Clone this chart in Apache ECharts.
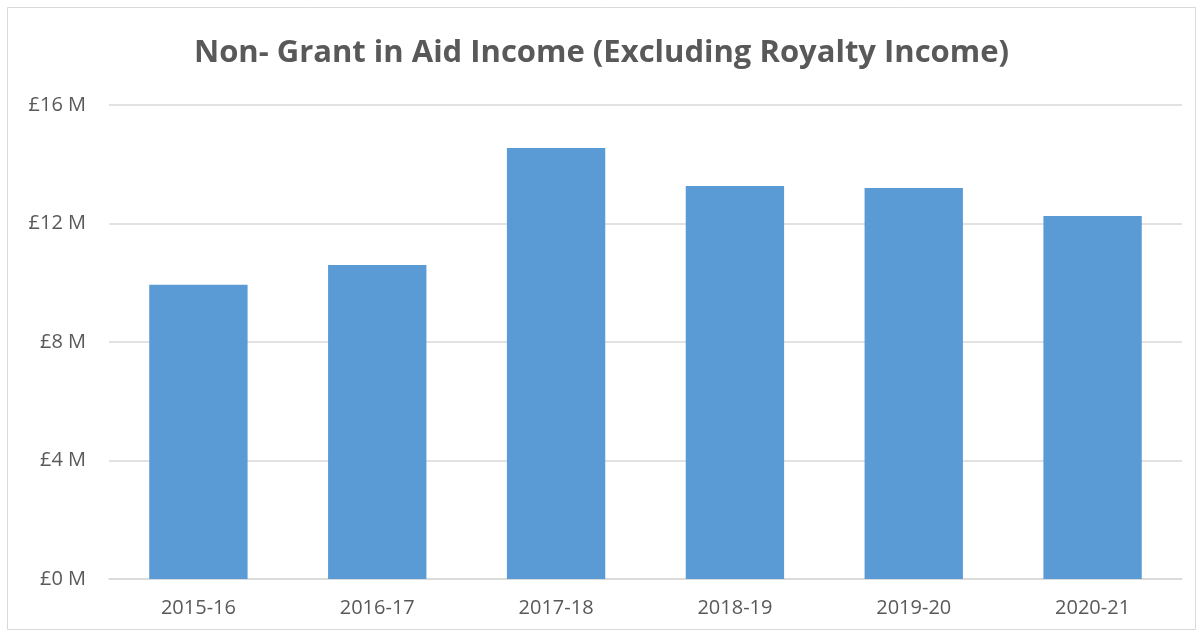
<!DOCTYPE html>
<html><head><meta charset="utf-8">
<script src="https://cdn.jsdelivr.net/npm/echarts@6/dist/echarts.min.js"></script>
<style>html,body{margin:0;padding:0;background:#fff}#c{width:1203px;height:637px}</style>
</head><body><div id="c"></div>
<script>
const categories = ['2015-16','2016-17','2017-18','2018-19','2019-20','2020-21'];
const income = [9.93, 10.6, 14.55, 13.27, 13.2, 12.25];
const yTicks = [0, 4, 8, 12, 16];

const chart = echarts.init(document.getElementById('c'), null, {renderer:'canvas'});
const font = '"Open Sans", "Liberation Sans", sans-serif';
chart.setOption({
  backgroundColor:'#fff',
  animation:false,
  title:{text:'Non- Grant in Aid Income (Excluding Royalty Income)', left:'center', top:33,
    textStyle:{fontFamily:font, fontWeight:'bold', fontSize:31, color:'#595959'}},
  graphic:[{type:'rect', shape:{x:7.5,y:7.5,width:1188,height:622}, style:{fill:null, stroke:'#D9D9D9', lineWidth:1}, silent:true}],
  grid:{left:109, right:21, top:105, bottom:58},
  xAxis:{type:'category', data:categories,
    axisLine:{lineStyle:{color:'#D9D9D9', width:1.5}}, axisTick:{show:false},
    axisLabel:{color:'#595959', fontFamily:font, fontSize:20, margin:19}},
  yAxis:{type:'value', min:yTicks[0], max:yTicks[yTicks.length-1], interval:4,
    axisLine:{show:false}, axisTick:{show:false},
    splitLine:{lineStyle:{color:'#D9D9D9', width:1.5}},
    axisLabel:{color:'#595959', fontFamily:font, fontSize:20, margin:23, formatter:v=>'£'+v+' M'}},
  series:[{type:'bar', data:income, barWidth:'55%', itemStyle:{color:'#5B9BD5'}}]
});
</script></body></html>
